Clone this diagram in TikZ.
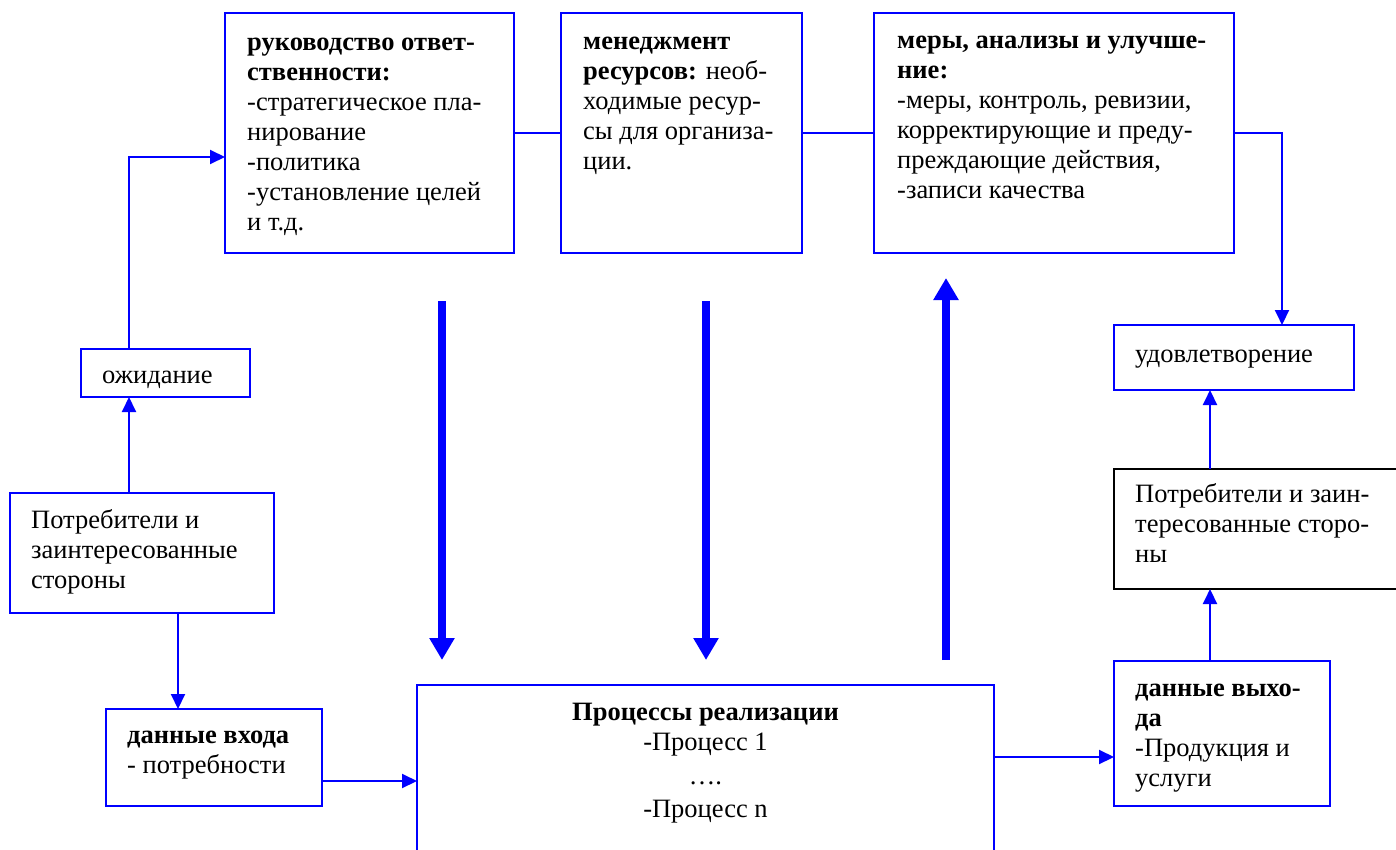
\documentclass[tikz,border=0pt]{standalone}
\usepackage{fontspec}
\setmainfont{Liberation Serif}
\usetikzlibrary{arrows.meta,positioning}
\definecolor{boxblue}{RGB}{0,0,255}
\newcommand{\boxfont}{\fontsize{26.5}{30}\selectfont}
\tikzset{
	box/.style={draw=boxblue, line width=2pt, anchor=north west, inner sep=0pt, outer sep=0pt},
	txt/.style={inner sep=0pt, align=left, font=\boxfont},
	wire/.style={draw=boxblue, line width=2pt},
	link/.style={wire, -{Triangle[length=15pt,width=14pt]}},
	fat/.style={draw=boxblue, line width=8pt, -{Triangle[length=22pt,width=24pt]}}
}

\begin{document}
\begin{tikzpicture}[x=1pt,y=-1pt]
		
		%%Location
		\useasboundingbox (0,0) rectangle (1396,850);
		
		%%Boxes
		\node[box, minimum width=289pt, minimum height=240pt] (ruk) at (225,13) {};
		\node[box, minimum width=241pt, minimum height=240pt] (men) at (561,13) {};
		\node[box, minimum width=360pt, minimum height=240pt] (mery) at (874,13) {};
		\node[box, minimum width=169pt, minimum height=48pt] (ozh) at (81,349) {};
		\node[box, minimum width=264pt, minimum height=120pt] (potr) at (10,493) {};
		\node[box, minimum width=216pt, minimum height=97pt] (vhod) at (106,709) {};
		\node[box, minimum width=577pt, minimum height=180pt] (proc) at (417,685) {};
		\node[box, minimum width=240pt, minimum height=65pt] (udov) at (1114,325) {};
		\node[box, draw=black, minimum width=290pt, minimum height=120pt] (potrout) at (1114,469) {};
		\node[box, minimum width=216pt, minimum height=145pt] (vyhod) at (1114,661) {};
		
		%%Label
		\node[txt, below right=16pt and 22pt of ruk.north west] (ruk text) {\strut\textbf{руководство ответ-}\\\textbf{ственности:}\\-стратегическое пла-\\нирование\\-политика\\-установление целей\\и т.д.};
		\node[txt, below right=15pt and 22pt of men.north west] (men text) {\strut\textbf{менеджмент}\\\textbf{ресурсов:} необ-\\ходимые ресур-\\сы для организа-\\ции.};
		\node[txt, below right=14pt and 23pt of mery.north west] (mery text) {\strut\textbf{меры, анализы и улучше-}\\\textbf{ние:}\\-меры, контроль, ревизии,\\корректирующие и преду-\\преждающие действия,\\-записи качества};
		\node[txt, below right=13pt and 21pt of ozh.north west] (ozh text) {\strut ожидание};
		\node[txt, below right=14pt and 21pt of potr.north west] (potr text) {\strut Потребители и\\заинтересованные\\стороны};
		\node[txt, below right=13pt and 21pt of vhod.north west] (vhod text) {\strut\textbf{данные входа}\\- потребности};
		\node[txt, align=center, below=14pt of proc.north] (proc text) {\strut\textbf{Процессы реализации}\\-Процесс 1\\[4pt]….\\[3pt]-Процесс n};
		\node[txt, below right=16pt and 21pt of udov.north west] (udov text) {\strut удовлетворение};
		\node[txt, below right=12pt and 21pt of potrout.north west] (potrout text) {\strut Потребители и заин-\\тересованные сторо-\\ны};
		\node[txt, below right=14pt and 21pt of vyhod.north west] (vyhod text) {\strut\textbf{данные выхо-}\\\textbf{да}\\-Продукция и\\услуги};
		
		%%Connectors
		\draw[wire] (ruk.east) -- (men.west);
		\draw[wire] (men.east) -- (mery.west);
		\draw[link] (mery.east) -| ([xshift=48pt]udov.north);
		\draw[link] ([xshift=48pt]ozh.north west) |- ([yshift=-24pt]ruk.west);
		\draw[link] ([xshift=119pt]potr.north west) -- ([xshift=48pt]ozh.south west);
		\draw[link] ([xshift=168pt]potr.south west) -- ([xshift=72pt]vhod.north west);
		\draw[link] ([yshift=-23.5pt]vhod.east) -- ([yshift=-23.5pt]vhod.east -| proc.west);
		\draw[link] ([yshift=-72pt]proc.north east) -- ([yshift=-72pt]proc.north east -| vyhod.west);
		\draw[link] ([xshift=-12pt]vyhod.north) -- ([xshift=-12pt]vyhod.north |- potrout.south);
		\draw[link] ([xshift=96pt]potrout.north west) -- ([xshift=96pt]potrout.north west |- udov.south);
		
		%%Big arrows
		\coordinate (down1a) at (442,301);
		\coordinate (down1b) at (442,660);
		\coordinate (down2a) at (706,301);
		\coordinate (down2b) at (706,660);
		\coordinate (upa) at (946,660);
		\coordinate (upb) at (946,278);
		\draw[fat] (down1a) -- (down1b);
		\draw[fat] (down2a) -- (down2b);
		\draw[fat] (upa) -- (upb);
		
\end{tikzpicture}
\end{document}
